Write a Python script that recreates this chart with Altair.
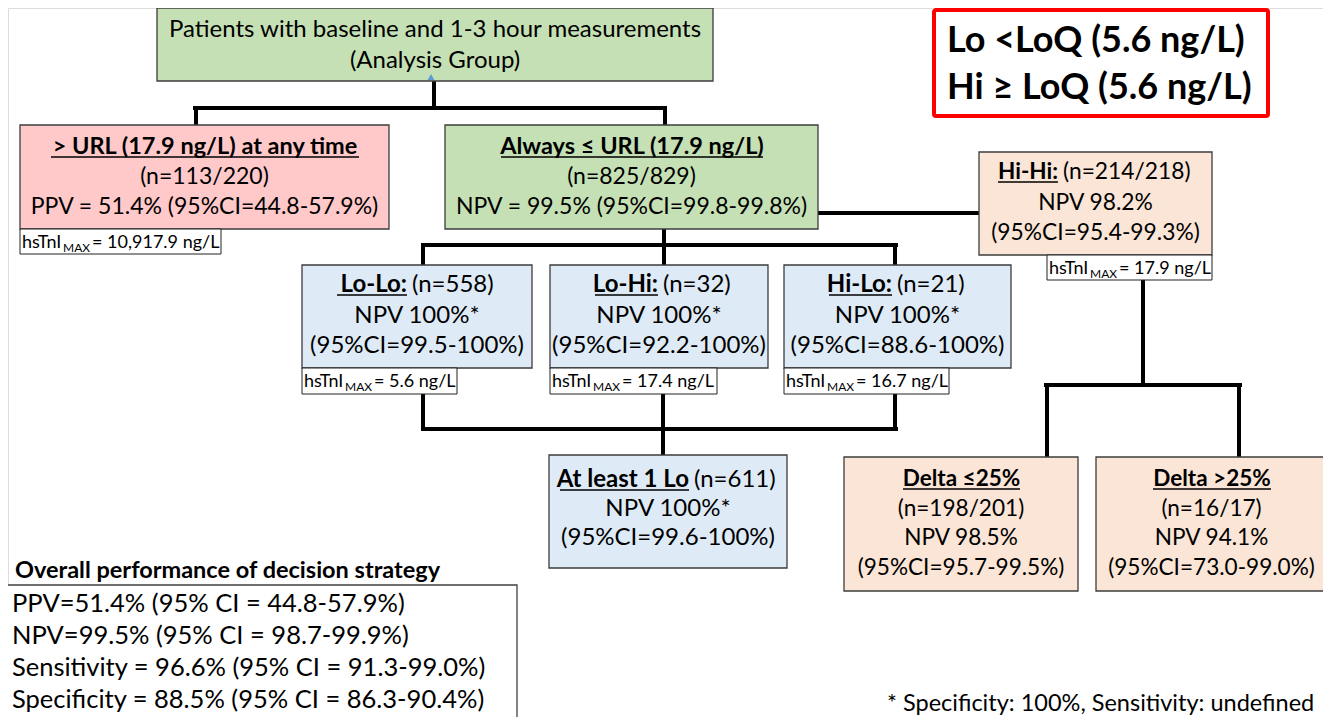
import altair as alt
import pandas as pd

# ---------------- content ----------------
top_lines = ["Patients with baseline and 1-3 hour measurements", "(Analysis Group)"]

node_ids = ["url_hi", "url_lo", "lolo", "lohi", "hilo", "hihi", "atleast", "dlo", "dhi"]
node_bold = ["> URL (17.9 ng/L) at any time", "Always \u2264 URL (17.9 ng/L)", "Lo-Lo:", "Lo-Hi:",
             "Hi-Lo:", "Hi-Hi:", "At least 1 Lo", "Delta \u226425%", "Delta >25%"]
node_bold_rest = ["", "", "(n=558)", "(n=32)", "(n=21)", "(n=214/218)", "(n=611)", "", ""]
node_lines = [
    ["(n=113/220)", "PPV = 51.4% (95%CI=44.8-57.9%)"],
    ["(n=825/829)", "NPV = 99.5% (95%CI=99.8-99.8%)"],
    ["NPV 100%*", "(95%CI=99.5-100%)"],
    ["NPV 100%*", "(95%CI=92.2-100%)"],
    ["NPV 100%*", "(95%CI=88.6-100%)"],
    ["NPV 98.2%", "(95%CI=95.4-99.3%)"],
    ["NPV 100%*", "(95%CI=99.6-100%)"],
    ["(n=198/201)", "NPV 98.5%", "(95%CI=95.7-99.5%)"],
    ["(n=16/17)", "NPV 94.1%", "(95%CI=73.0-99.0%)"],
]
label_nodes = ["url_hi", "lolo", "lohi", "hilo", "hihi"]
label_values = ["= 10,917.9 ng/L", "= 5.6 ng/L", "= 17.4 ng/L", "= 16.7 ng/L", "= 17.9 ng/L"]
legend_lines = ["Lo <LoQ (5.6 ng/L)", "Hi \u2265 LoQ (5.6 ng/L)"]
perf_title = "Overall performance of decision strategy"
perf_lines = [
    "PPV=51.4% (95% CI = 44.8-57.9%)",
    "NPV=99.5% (95% CI = 98.7-99.9%)",
    "Sensitivity = 96.6% (95% CI = 91.3-99.0%)",
    "Specificity = 88.5% (95% CI = 86.3-90.4%)",
]
footnote = "* Specificity: 100%, Sensitivity: undefined"

# ---------------- layout (page pixel coordinates) ----------------
GREEN, PINK, BLUE, PEACH = "#C5E0B4", "#FFC9C9", "#DEEBF7", "#FBE5D6"
box_layout = {  # x0, x1, y0, y1, fill, first baseline, line step, regular size, bold size
    "top":     (157, 713, 8, 81, GREEN, 37, 31, 24, 24),
    "url_hi":  (20, 389, 125, 229, PINK, 154, 30, 23, 23.5),
    "url_lo":  (445, 818, 125, 229, GREEN, 154, 30, 23, 23.5),
    "lolo":    (302, 532, 265, 368, BLUE, 292, 30.5, 24, 24),
    "lohi":    (550, 768, 265, 368, BLUE, 292, 30.5, 24, 24),
    "hilo":    (784, 1011, 265, 368, BLUE, 292, 30.5, 24, 24),
    "hihi":    (979, 1212, 152, 255, PEACH, 179, 30.5, 22.8, 22.5),
    "atleast": (549, 787, 455, 568, BLUE, 487, 29, 24, 24),
    "dlo":     (844, 1078, 457, 591, PEACH, 486, 29.7, 22.6, 22.5),
    "dhi":     (1096, 1327, 457, 591, PEACH, 486, 29.7, 22.6, 22.5),
}
# underline extents of the bold heading (x0, x1)
underline = {
    "url_hi": (51, 359), "url_lo": (501, 763), "lolo": (337, 407), "lohi": (595, 658),
    "hilo": (829, 892), "hihi": (998, 1058), "atleast": (560, 689), "dlo": (903, 1020),
    "dhi": (1153, 1271),
}
label_layout = {  # x0, x1, y0, y1
    "url_hi": (20, 221, 229, 254), "lolo": (302, 457, 368, 394), "lohi": (550, 717, 368, 394),
    "hilo": (784, 949, 368, 394), "hihi": (1047, 1212, 255, 280),
}
connectors = [
    (434, 434, 81, 108), (195, 665, 108, 108), (196, 196, 108, 125), (665, 665, 108, 125),
    (818, 979, 213, 213),
    (664, 664, 229, 245), (423, 896, 245, 245), (423, 423, 245, 265), (664, 664, 245, 265),
    (895, 895, 245, 265),
    (423, 423, 394, 429), (663, 663, 394, 455), (895, 895, 394, 429), (423, 896, 429, 429),
    (1143, 1143, 280, 385), (1046, 1240, 385, 385), (1047, 1047, 385, 457), (1239, 1239, 385, 457),
]

FONT = "Lato"

boxes, texts, unders, labels = [], [], [], []
x0, x1, y0, y1, fill, b0, step, rs, bs = box_layout["top"]
boxes.append(dict(x=x0, x2=x1, y=y0, y2=y1, fill=fill))
for i, t in enumerate(top_lines):
    texts.append(dict(x=(x0 + x1) / 2, y=b0 + i * step, text=t, size=rs, align="center", weight="normal"))

for nid, bold, rest, lines in zip(node_ids, node_bold, node_bold_rest, node_lines):
    x0, x1, y0, y1, fill, b0, step, rs, bs = box_layout[nid]
    boxes.append(dict(x=x0, x2=x1, y=y0, y2=y1, fill=fill))
    u0, u1 = underline[nid]
    if rest:
        texts.append(dict(x=u1, y=b0, text=bold, size=bs, align="right", weight="bold"))
        texts.append(dict(x=u1 + 5, y=b0, text=rest, size=rs, align="left", weight="normal"))
    else:
        texts.append(dict(x=(u0 + u1) / 2, y=b0, text=bold, size=bs, align="center", weight="bold"))
    unders.append(dict(x=u0, x2=u1, y=b0 + 3, y2=b0 + 3))
    for i, t in enumerate(lines):
        texts.append(dict(x=(x0 + x1) / 2, y=b0 + (i + 1) * step, text=t, size=rs,
                          align="center", weight="normal"))

for nid, val in zip(label_nodes, label_values):
    x0, x1, y0, y1 = label_layout[nid]
    labels.append(dict(x=x0, x2=x1, y=y0, y2=y1))
    texts.append(dict(x=x0 + 2, y=y0 + 19, text="hsTnI", size=18, align="left", weight="normal"))
    texts.append(dict(x=x0 + 43, y=y0 + 23, text="MAX", size=12, align="left", weight="normal"))
    texts.append(dict(x=x0 + 72, y=y0 + 19, text=val, size=18, align="left", weight="normal"))

for i, t in enumerate(legend_lines):
    texts.append(dict(x=947, y=52 + i * 47, text=t, size=36, align="left", weight="bold"))

texts.append(dict(x=15, y=578, text=perf_title, size=23.5, align="left", weight="bold"))
for i, t in enumerate(perf_lines):
    texts.append(dict(x=12, y=612 + i * 32, text=t, size=25.5, align="left", weight="normal"))
texts.append(dict(x=887, y=711, text=footnote, size=23.5, align="left", weight="normal"))

XS = alt.Scale(domain=[8, 1323], nice=False, zero=False)
YS = alt.Scale(domain=[8, 717], nice=False, zero=False, reverse=True)


def X(f="x"):
    return alt.X(f"{f}:Q", scale=XS, axis=None)


def Y(f="y"):
    return alt.Y(f"{f}:Q", scale=YS, axis=None)


box_df = pd.DataFrame(boxes)
box_layer = alt.Chart(box_df).mark_rect(stroke="#3C3C3C", strokeWidth=1.3).encode(
    x=X(), x2="x2:Q", y=Y(), y2="y2:Q", fill=alt.Fill("fill:N", scale=None))

label_layer = alt.Chart(pd.DataFrame(labels)).mark_rect(fill="white", stroke="#222222", strokeWidth=1).encode(
    x=X(), x2="x2:Q", y=Y(), y2="y2:Q")

legend_box = alt.Chart(pd.DataFrame([dict(x=934, x2=1268, y=10, y2=116)])).mark_rect(
    fill="white", stroke="#FF0000", strokeWidth=4, cornerRadius=2).encode(
    x=X(), x2="x2:Q", y=Y(), y2="y2:Q")

perf_box = alt.Chart(pd.DataFrame([dict(x=5, x2=517, y=585, y2=722)])).mark_rect(
    fill="white", stroke="#404040", strokeWidth=1.3).encode(
    x=X(), x2="x2:Q", y=Y(), y2="y2:Q")

conn_layer = alt.Chart(pd.DataFrame(connectors, columns=["x", "x2", "y", "y2"])).mark_rule(
    color="black", strokeWidth=4, strokeCap="square").encode(x=X(), x2="x2:Q", y=Y(), y2="y2:Q")

under_layer = alt.Chart(pd.DataFrame(unders)).mark_rule(color="black", strokeWidth=1.5).encode(
    x=X(), x2="x2:Q", y=Y(), y2="y2:Q")

tri = alt.Chart(pd.DataFrame([dict(x=431, y=77)])).mark_point(
    shape="triangle-up", filled=True, color="#5B9BD5", size=45, opacity=1).encode(x=X(), y=Y())

text_df = pd.DataFrame(texts)
text_layers = []
for (al, wt), g in text_df.groupby(["align", "weight"]):
    text_layers.append(
        alt.Chart(g).mark_text(align=al, baseline="alphabetic", font=FONT, fontWeight=wt, color="black").encode(
            x=X(), y=Y(), text="text:N", size=alt.Size("size:Q", scale=None))
    )

chart = alt.layer(conn_layer, box_layer, label_layer, legend_box, perf_box, under_layer, tri, *text_layers).properties(
    width=1315, height=709, autosize=alt.AutoSizeParams(type="none"), padding=0
).configure_view(stroke=None).configure(background="white")

chart.save("out.html", embed_options={"renderer": "svg", "actions": False})
